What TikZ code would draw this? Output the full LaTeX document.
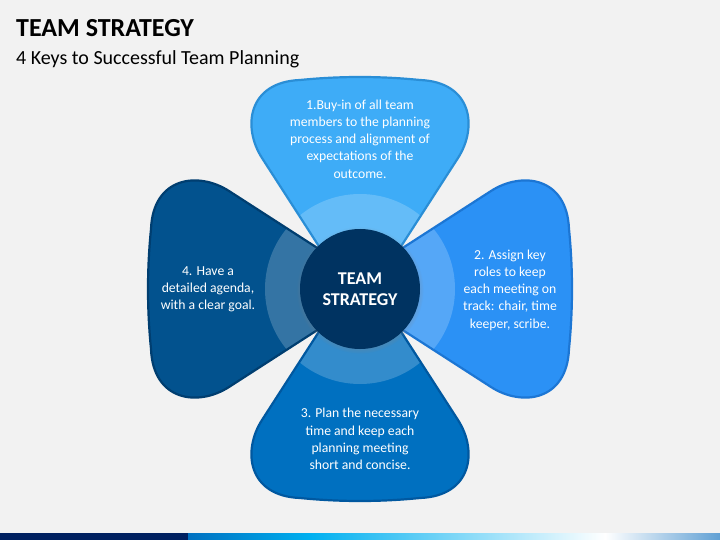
\documentclass[tikz,border=0pt]{standalone}
\usepackage{fontspec}
\setmainfont{Carlito}
\usepackage{xcolor}
\usepackage{tikz}
\usetikzlibrary{shadows}

\definecolor{bgray}{RGB}{242,242,242}
\definecolor{petalone}{RGB}{62,172,247}
\definecolor{petalonedark}{RGB}{42,142,214}
\definecolor{petaltwo}{RGB}{43,145,245}
\definecolor{petaltwodark}{RGB}{28,118,212}
\definecolor{petalthree}{RGB}{0,112,192}
\definecolor{petalthreedark}{RGB}{0,88,160}
\definecolor{petalfour}{RGB}{2,82,142}
\definecolor{petalfourdark}{RGB}{0,62,112}
\definecolor{hubblue}{RGB}{0,51,97}
\definecolor{barnavy}{RGB}{0,32,96}
\definecolor{barcyan}{RGB}{0,176,240}
\definecolor{barend}{RGB}{96,160,212}

\newcommand{\petalpath}{(0,21) -- (-98,-131) .. controls (-118,-162) and (-112,-207) .. (-60,-209) .. controls (-20,-213) and (20,-213) .. (60,-209) .. controls (112,-207) and (118,-162) .. (98,-131) -- cycle}

\newcommand{\drawpetal}[3]{%
  \begin{scope}[shift={(360,289)}, rotate=#1]
    \fill[#2] \petalpath;
    \begin{scope}
      \clip \petalpath;
      \fill[white, opacity=0.2] (0,0) circle (95);
    \end{scope}
    \draw[#3, line width=2.2pt, line join=round] \petalpath;
  \end{scope}}

\tikzset{
  keytext/.style={text=white, align=center, font=\fontsize{13.7}{17.2}\selectfont},
  hub/.style={circle, fill=hubblue, minimum size=120pt, inner sep=0pt, text=white, align=center,
    font=\bfseries\fontsize{18}{20.5}\selectfont,
    circular drop shadow={shadow xshift=0pt, shadow yshift=-1pt, opacity=0.45, shadow scale=1.06}}
}

\begin{document}
\begin{tikzpicture}[x=1pt, y=-1pt]

\fill[bgray] (0,0) rectangle (720,540);
\useasboundingbox (0,0) rectangle (720,540);

\node[anchor=base west, inner sep=0pt, font=\bfseries\fontsize{26}{30}\selectfont] (title) at (16,37) {TEAM STRATEGY};
\node[anchor=base west, inner sep=0pt, font=\fontsize{20}{24}\selectfont] (subtitle) at (16,65) {4 Keys to Successful Team Planning};

\drawpetal{0}{petalone}{petalonedark}
\drawpetal{-90}{petaltwo}{petaltwodark}
\drawpetal{180}{petalthree}{petalthreedark}
\drawpetal{90}{petalfour}{petalfourdark}

\node[hub] (center) at (360,289) {TEAM\\STRATEGY};

\node[keytext] (keyone) at (360,139) {1.Buy-in of all team\\members to the planning\\process and alignment of\\expectations of the\\outcome.};
\node[keytext] (keytwo) at (510,290) {2. Assign key\\roles to keep\\each meeting on\\track: chair, time\\keeper, scribe.};
\node[keytext] (keythree) at (360,439) {3. Plan the necessary\\time and keep each\\planning meeting\\short and concise.};
\node[keytext] (keyfour) at (208,289) {4. Have a\\detailed agenda,\\with a clear goal.};

\fill[barnavy] (0,533) rectangle (188,540);
\shade[left color=petalthree, right color=barcyan] (188,533) rectangle (310,540);
\shade[left color=barcyan, right color=white] (310,533) rectangle (605,540);
\shade[left color=white, right color=barend] (605,533) rectangle (720,540);

\end{tikzpicture}
\end{document}
